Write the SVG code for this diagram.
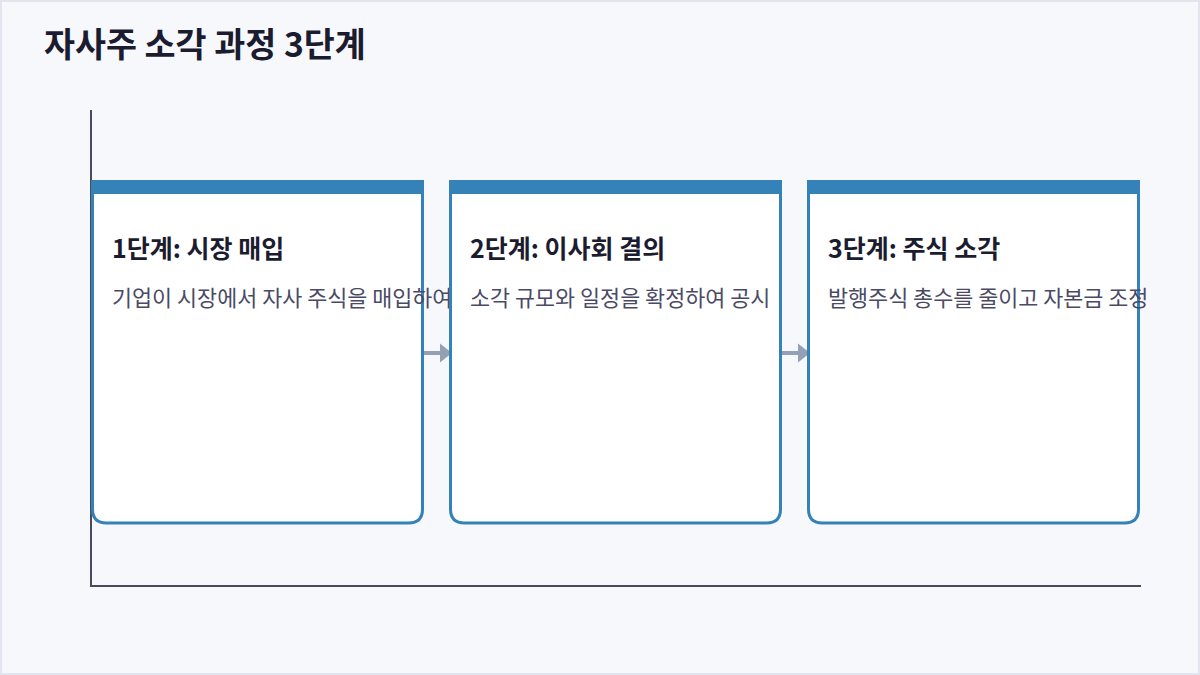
<svg xmlns="http://www.w3.org/2000/svg" width="1200" height="675" viewBox="0 0 1200 675">
<defs>
<style>
.bg{fill:#f7f8fc;stroke:#e2e5ee;stroke-width:2}
.card{fill:#ffffff;stroke:#3482b7;stroke-width:3}
.band{fill:#3482b7}
.ttl{font-family:"Noto Sans CJK KR","Noto Sans",sans-serif;font-weight:700;font-size:25px;fill:#1c1c30}
.desc{font-family:"Noto Sans CJK KR","Noto Sans",sans-serif;font-size:21.8px;fill:#4a4a66}
.head{font-family:"Noto Sans CJK KR","Noto Sans",sans-serif;font-weight:700;font-size:33.7px;fill:#1c1c30}
.axis{stroke:#4a4a5a;stroke-width:2;fill:none}
.conn{stroke:#94a0b4;stroke-width:4;fill:none}
.ahead{fill:#94a0b4}
</style>
</defs>
<rect class="bg" x="1" y="1" width="1198" height="673"/>
<text class="head" x="44" y="57">자사주 소각 과정 3단계</text>
<g id="axes">
<line class="axis" x1="91" y1="110" x2="91" y2="587"/>
<line class="axis" x1="90" y1="586" x2="1141" y2="586"/>
</g>
<g id="connectors">
<line class="conn" x1="420" y1="353" x2="441" y2="353"/>
<polygon class="ahead" points="440,343.5 452,353 440,362.5"/>
<line class="conn" x1="778" y1="353" x2="799" y2="353"/>
<polygon class="ahead" points="798,343.5 810,353 798,362.5"/>
</g>
<g id="step1">
<path class="card" d="M92.5,181.5 H422.5 V509 Q422.5,523 408.5,523 H106.5 Q92.5,523 92.5,509 Z"/>
<rect class="band" x="91" y="180" width="333" height="14"/>
<text class="ttl" x="112" y="257.5">1단계: 시장 매입</text>
<text class="desc" x="112" y="306">기업이 시장에서 자사 주식을 매입하여</text>
</g>
<g id="step2">
<path class="card" d="M450.5,181.5 H780.5 V509 Q780.5,523 766.5,523 H464.5 Q450.5,523 450.5,509 Z"/>
<rect class="band" x="449" y="180" width="333" height="14"/>
<text class="ttl" x="470" y="257.5">2단계: 이사회 결의</text>
<text class="desc" x="470" y="306">소각 규모와 일정을 확정하여 공시</text>
</g>
<g id="step3">
<path class="card" d="M808.5,181.5 H1138.5 V509 Q1138.5,523 1124.5,523 H822.5 Q808.5,523 808.5,509 Z"/>
<rect class="band" x="807" y="180" width="333" height="14"/>
<text class="ttl" x="828" y="257.5">3단계: 주식 소각</text>
<text class="desc" x="828" y="306">발행주식 총수를 줄이고 자본금 조정</text>
</g>
</svg>
